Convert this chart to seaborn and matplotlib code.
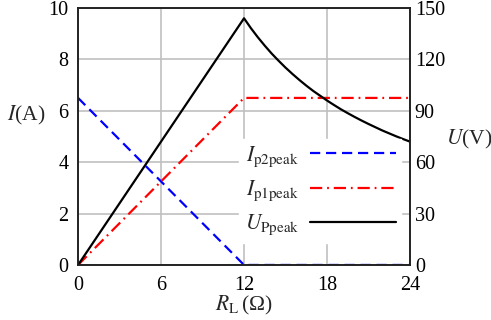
import matplotlib
matplotlib.use("Agg")
import matplotlib.pyplot as plt
import seaborn as sns
import pandas as pd

# Load resistance R_L (ohm)
r_load = [0, 12, 24]
# Peak currents (A)
i_p2peak = [6.5, 0.0, 0.0]
i_p1peak = [0.0, 6.5, 6.5]
# Peak voltage (V)
r_volt = [0, 12, 12.5, 13, 13.5, 14, 14.5, 15, 15.5, 16, 16.5, 17, 17.5, 18,
          18.5, 19, 19.5, 20, 20.5, 21, 21.5, 22, 22.5, 23, 23.5, 24]
u_ppeak = [0, 144, 138.2, 132.9, 128.0, 123.4, 119.2, 115.2, 111.5, 108.0, 104.7,
           101.6, 98.8, 96.0, 93.4, 90.9, 88.6, 86.4, 84.3, 82.3, 80.4, 78.5,
           76.8, 75.1, 73.5, 72.0]

x_ticks = [0, 6, 12, 18, 24]
i_ticks = [0, 2, 4, 6, 8, 10]
u_ticks = [0, 30, 60, 90, 120, 150]

sns.set_theme(style="whitegrid")
plt.rcParams["font.family"] = ["Liberation Serif", "DejaVu Serif"]
plt.rcParams["mathtext.fontset"] = "stix"

df_i = pd.DataFrame({"R": r_load, "Ip2": i_p2peak, "Ip1": i_p1peak})
df_u = pd.DataFrame({"R": r_volt, "U": u_ppeak})

fig = plt.figure(figsize=(4.91, 3.20), dpi=100)
ax = fig.add_axes([0.159, 0.172, 0.676, 0.803])
ax2 = ax.twinx()

sns.lineplot(data=df_i, x="R", y="Ip2", ax=ax, color="#0000ff", lw=1.6,
             linestyle=(0, (4.6, 2.6)), label=r"$I_{\mathrm{p2peak}}$", legend=False)
sns.lineplot(data=df_i, x="R", y="Ip1", ax=ax, color="#ff0000", lw=1.6,
             linestyle=(0, (5.5, 2.2, 0.8, 2.2)), label=r"$I_{\mathrm{p1peak}}$", legend=False)
sns.lineplot(data=df_u, x="R", y="U", ax=ax2, color="black", lw=1.6,
             label=r"$U_{\mathrm{Ppeak}}$", legend=False)

ax.set_xlim(0, 24)
ax.set_ylim(0, 10)
ax2.set_ylim(0, 150)
ax.set_xticks(x_ticks)
ax.set_yticks(i_ticks)
ax2.set_yticks(u_ticks)
ax2.grid(False)
ax.grid(True, color="#c0c0c0", lw=1.2)

for a in (ax, ax2):
    for s in a.spines.values():
        s.set_color("#222222")
        s.set_linewidth(1.2)
    a.tick_params(labelsize=14.5, length=0, colors="#222222", labelcolor="black")
ax.tick_params(axis="x", pad=8)
ax.tick_params(axis="y", pad=7)
ax2.tick_params(axis="y", pad=3.5)

ax.set_xlabel(r"$R_{\mathrm{L}}\,$(Ω)", fontsize=15.5, labelpad=0)
ax.xaxis.label.set_va("center")
ax.xaxis.set_label_coords(0.5, -0.158)
ax.set_ylabel(r"$I$(A)", fontsize=15.5, rotation=0, labelpad=0)
ax.yaxis.set_label_coords(-0.156, 0.535)
ax2.set_ylabel(r"$U$(V)", fontsize=15.5, rotation=0, labelpad=0)
ax2.yaxis.set_label_coords(1.178, 0.535)

h1, l1 = ax.get_legend_handles_labels()
h2, l2 = ax2.get_legend_handles_labels()
leg = ax2.legend(h1 + h2, l1 + l2, loc="center", bbox_to_anchor=(0.73, 0.288),
                 markerfirst=False, frameon=True, facecolor="white", edgecolor="white",
                 framealpha=1, fancybox=False, fontsize=15.5, handlelength=4.0,
                 labelspacing=0.45, borderpad=0.25, handletextpad=0.5)

fig.savefig("out.png", dpi=100)
